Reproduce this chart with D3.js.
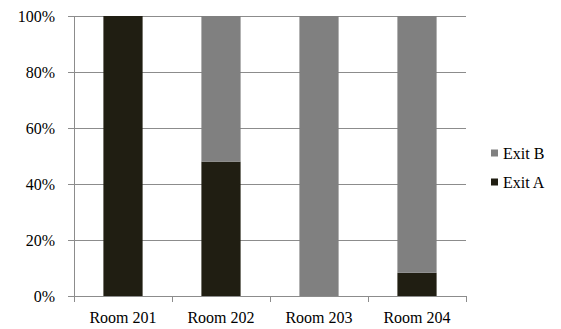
<!DOCTYPE html>
<html>
<head>
<meta charset="utf-8">
<script src="https://cdn.jsdelivr.net/npm/d3@7"></script>
</head>
<body style="margin:0">
<svg id="chart" width="561" height="329"></svg>
<script>
// Share of evacuees per exit, by room (percent)
const rooms = ["Room 201", "Room 202", "Room 203", "Room 204"];
const exitA = [100, 48, 0, 8.3];
const exitB = [0, 52, 100, 91.7];
const seriesNames = ["Exit A", "Exit B"];
const seriesColors = ["#201e12", "#808080"];
const yTicks = [0, 20, 40, 60, 80, 100];

const FONT = "Liberation Serif, Times New Roman, serif";

const svg = d3.select("#chart").style("display", "block");
const margin = { left: 74, right: 95, top: 16, bottom: 33 };
const W = 561, H = 329;
const plotW = W - margin.left - margin.right;
const plotH = H - margin.top - margin.bottom;

const x = d3.scaleBand().domain(rooms).range([margin.left, margin.left + plotW]).paddingInner(0.6).paddingOuter(0.3);
const xOuter = d3.scaleBand().domain(rooms).range([margin.left, margin.left + plotW]);
const y = d3.scaleLinear().domain([0, 100]).range([margin.top + plotH, margin.top]);

const gridColor = "#8c8c8c";

function label(sel) {
  return sel.style("font-family", FONT, "important")
    .style("font-size", "16px", "important")
    .style("fill", "#000");
}

// horizontal gridlines with short tick stubs to the left
svg.append("g").selectAll("line").data(yTicks).join("line")
  .attr("x1", margin.left - 6).attr("x2", margin.left + plotW)
  .attr("y1", d => Math.round(y(d)) + 0.5).attr("y2", d => Math.round(y(d)) + 0.5)
  .attr("stroke", gridColor).attr("stroke-width", 1);

// y axis labels
svg.append("g").selectAll("text").data(yTicks).join("text")
  .attr("x", margin.left - 19).attr("y", d => y(d) + 5.5)
  .attr("text-anchor", "end")
  .call(label)
  .text(d => d + "%");

// stacked bars
const rows = rooms.map((r, i) => ({ room: r, "Exit A": exitA[i], "Exit B": exitB[i] }));
const stacked = d3.stack().keys(seriesNames)(rows);
svg.append("g").selectAll("g").data(stacked).join("g")
  .attr("fill", (d, i) => seriesColors[i])
  .selectAll("rect").data(d => d).join("rect")
  .attr("x", d => x(d.data.room)).attr("width", x.bandwidth())
  .attr("y", d => y(d[1])).attr("height", d => y(d[0]) - y(d[1]));

// vertical axis line
svg.append("line")
  .attr("x1", margin.left + 0.5).attr("x2", margin.left + 0.5)
  .attr("y1", margin.top).attr("y2", margin.top + plotH)
  .attr("stroke", gridColor);

// category separators on x axis
const xTickPos = rooms.map(r => xOuter(r)).concat([margin.left + plotW]);
svg.append("g").selectAll("line").data(xTickPos).join("line")
  .attr("x1", d => Math.round(d) + 0.5).attr("x2", d => Math.round(d) + 0.5)
  .attr("y1", margin.top + plotH).attr("y2", margin.top + plotH + 6)
  .attr("stroke", gridColor);

// x labels
svg.append("g").selectAll("text").data(rooms).join("text")
  .attr("x", d => xOuter(d) + xOuter.bandwidth() / 2).attr("y", margin.top + plotH + 27)
  .attr("text-anchor", "middle")
  .call(label)
  .text(d => d);

// legend (Exit B on top)
const legendItems = [
  { name: "Exit B", color: seriesColors[1] },
  { name: "Exit A", color: seriesColors[0] }
];
const lg = svg.append("g").selectAll("g").data(legendItems).join("g")
  .attr("transform", (d, i) => `translate(491, ${153 + i * 29})`);
lg.append("rect").attr("x", 0).attr("y", -3.5).attr("width", 7).attr("height", 7).attr("fill", d => d.color);
lg.append("text").attr("x", 12).attr("y", 5.5)
  .call(label)
  .text(d => d.name);
</script>
</body>
</html>
